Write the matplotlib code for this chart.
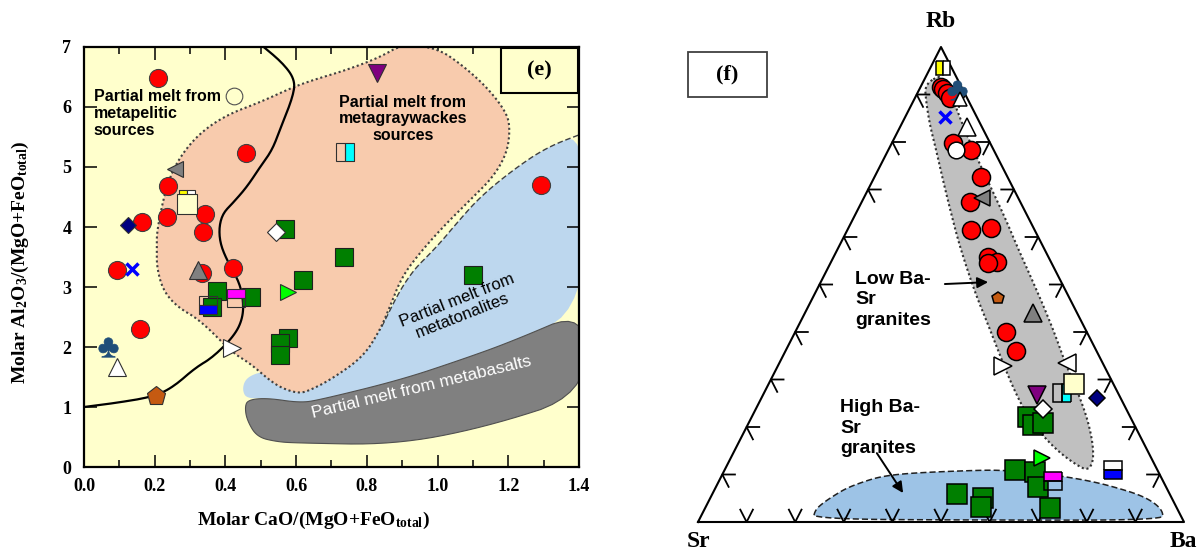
import matplotlib
matplotlib.use('Agg')
import matplotlib.pyplot as plt
import numpy as np
from matplotlib.patches import Polygon, Rectangle

plt.rcParams['font.family'] = ['Liberation Sans', 'DejaVu Sans']
plt.rcParams['mathtext.fontset'] = 'custom'
plt.rcParams['mathtext.rm'] = 'Liberation Serif:bold'
plt.rcParams['mathtext.it'] = 'Liberation Serif:bold:italic'
plt.rcParams['mathtext.bf'] = 'Liberation Serif:bold'
SERIF = ['Liberation Serif', 'DejaVu Serif']

# ---------------- panel (e): Al2O3/(MgO+FeO) vs CaO/(MgO+FeO) ----------------
red_x = [0.209, 0.458, 0.237, 0.164, 0.234, 0.342, 0.337, 0.093, 0.333, 0.421, 0.158, 1.292]
red_y = [6.48, 5.23, 4.68, 4.08, 4.17, 4.22, 3.92, 3.28, 3.23, 3.32, 2.30, 4.70]
green_x = [0.568, 0.376, 0.472, 0.362, 0.620, 0.735, 0.577, 0.554, 0.554, 1.100]
green_y = [3.97, 2.93, 2.83, 2.67, 3.12, 3.50, 2.15, 2.07, 1.87, 3.20]

# single symbols: name -> (x, y)
e_pts = {
    'navy_diamond': (0.124, 4.03), 'white_diamond': (0.543, 3.92),
    'blue_x': (0.136, 3.30), 'gray_up': (0.322, 3.28), 'gray_left': (0.257, 4.97),
    'white_circle': (0.425, 6.18), 'club': (0.068, 2.00), 'white_up': (0.093, 1.67),
    'pentagon': (0.204, 1.18), 'white_right': (0.418, 1.98), 'green_right': (0.577, 2.92),
    'purple_down': (0.829, 6.57), 'cyan_half': (0.738, 5.25), 'magenta_top': (0.430, 2.82),
    'blue_bottom': (0.351, 2.70), 'yellow_half': (0.291, 4.49), 'cream_sq': (0.291, 4.38),
}

# field outlines
peach_x = [0.902, 0.998, 1.063, 1.140, 1.196, 1.205, 1.196, 1.157, 1.092, 1.015, 0.950, 0.899,
           0.865, 0.837, 0.789, 0.696, 0.639, 0.611, 0.574, 0.534, 0.469, 0.421, 0.328, 0.263,
           0.223, 0.206, 0.206, 0.206, 0.235, 0.271, 0.328, 0.404, 0.498, 0.591, 0.648, 0.744, 0.837]
peach_y = [7.05, 6.98, 6.73, 6.33, 5.90, 5.62, 5.23, 4.83, 4.45, 4.00, 3.57, 3.17,
           2.67, 2.28, 1.83, 1.45, 1.28, 1.23, 1.28, 1.40, 1.73, 1.90, 2.45, 2.67,
           2.95, 3.33, 3.62, 3.95, 4.73, 5.17, 5.57, 5.87, 6.08, 6.33, 6.45, 6.62, 6.83]
tonal_x = [1.42, 1.309, 1.213, 1.120, 1.055, 0.998, 0.913, 0.837, 0.780, 0.696, 0.580, 0.520,
           0.480, 0.455, 0.448, 0.460, 0.518, 0.611, 0.667, 0.894, 1.063, 1.205, 1.42]
tonal_y = [5.58, 5.33, 4.95, 4.50, 4.07, 3.67, 3.17, 2.28, 1.78, 1.53, 1.65, 1.60,
           1.55, 1.45, 1.28, 1.14, 1.15, 1.07, 1.12, 1.45, 1.78, 2.08, 2.62]
basalt_x = [0.464, 0.518, 0.611, 0.667, 0.894, 1.063, 1.205, 1.42, 1.42, 1.128, 0.874, 0.602,
            0.546, 0.489, 0.461, 0.455]
basalt_y = [1.12, 1.15, 1.07, 1.12, 1.45, 1.78, 2.08, 2.62, 1.20, 0.65, 0.37, 0.40,
            0.42, 0.50, 0.78, 1.00]
curve_x = [0.0, 0.093, 0.195, 0.252, 0.314, 0.365, 0.427, 0.450, 0.450, 0.436, 0.404, 0.385,
           0.382, 0.393, 0.421, 0.461, 0.498, 0.532, 0.554, 0.591, 0.597, 0.563, 0.498]
curve_y = [1.00, 1.07, 1.17, 1.33, 1.65, 1.83, 2.20, 2.50, 2.83, 3.12, 3.45, 3.73,
           4.00, 4.23, 4.40, 4.67, 5.00, 5.28, 5.62, 6.17, 6.45, 6.73, 7.05]

# ---------------- panel (f): Rb-Sr-Ba ternary (Rb, Ba fractions) ----------------
t_red_rb = [0.916, 0.912, 0.903, 0.893, 0.798, 0.783, 0.726, 0.674, 0.615, 0.619, 0.558,
            0.547, 0.545, 0.400, 0.360]
t_red_ba = [0.042, 0.048, 0.061, 0.072, 0.126, 0.170, 0.219, 0.223, 0.254, 0.293, 0.318,
            0.342, 0.324, 0.434, 0.474]
t_green_rb = [0.221, 0.204, 0.208, 0.109, 0.105, 0.074, 0.029, 0.059, 0.051, 0.032]
t_green_ba = [0.569, 0.587, 0.606, 0.598, 0.641, 0.663, 0.710, 0.503, 0.561, 0.566]
f_pts = {
    'yellow_half': (0.956, 0.026), 'club': (0.909, 0.078), 'white_up_s': (0.891, 0.094),
    'blue_x': (0.853, 0.082), 'white_up': (0.832, 0.137), 'white_circle': (0.783, 0.139),
    'gray_left': (0.682, 0.243), 'pentagon': (0.472, 0.381), 'gray_up': (0.440, 0.469),
    'white_right': (0.328, 0.464), 'white_left': (0.335, 0.592), 'cyan_half': (0.272, 0.613),
    'cream_sq': (0.291, 0.628), 'navy_diamond': (0.261, 0.690), 'purple_down': (0.267, 0.564),
    'white_diamond': (0.238, 0.591), 'green_right': (0.135, 0.640),
    'magenta_top': (0.086, 0.687), 'blue_bottom': (0.109, 0.799),
}
# fields in triangle plot coordinates
lowbs_x = [0.494, 0.467, 0.469, 0.477, 0.490, 0.504, 0.519, 0.535, 0.551, 0.572, 0.597, 0.621,
           0.646, 0.673, 0.708, 0.745, 0.782, 0.802, 0.813, 0.813, 0.802, 0.782, 0.757, 0.735,
           0.710, 0.683, 0.658, 0.632, 0.605, 0.576, 0.549, 0.529, 0.514, 0.504]
lowbs_y = [0.939, 0.920, 0.888, 0.836, 0.783, 0.720, 0.657, 0.594, 0.541, 0.478, 0.415, 0.352,
           0.288, 0.232, 0.183, 0.145, 0.118, 0.109, 0.126, 0.162, 0.215, 0.272, 0.331, 0.394,
           0.457, 0.520, 0.577, 0.640, 0.699, 0.762, 0.825, 0.878, 0.914, 0.933]
highbs_x = [0.237, 0.241, 0.257, 0.282, 0.307, 0.344, 0.374, 0.416, 0.477, 0.580, 0.621, 0.683,
            0.759, 0.817, 0.862, 0.909, 0.940, 0.957, 0.955, 0.600]
highbs_y = [0.006, 0.025, 0.040, 0.057, 0.072, 0.086, 0.095, 0.101, 0.105, 0.109, 0.109, 0.105,
            0.095, 0.084, 0.072, 0.057, 0.040, 0.021, 0.004, 0.004]


def chaikin(x, y, closed=True, n=3):
    p = np.column_stack([x, y]).astype(float)
    for _ in range(n):
        q = np.roll(p, -1, axis=0) if closed else p[1:]
        a = p if closed else p[:-1]
        new = np.empty((2 * len(a), 2))
        new[0::2] = 0.75 * a + 0.25 * q
        new[1::2] = 0.25 * a + 0.75 * q
        if not closed:
            new = np.vstack([p[0], new, p[-1]])
        p = new
    return p


# marker styles: name -> kwargs
STY = {
    'navy_diamond': dict(marker='D', ms=8.5, mfc='#000080'),
    'white_diamond': dict(marker='D', ms=9.5, mfc='white'),
    'blue_x': dict(marker='x', ms=8, mec='#0000FF', mew=2.5),
    'gray_up': dict(marker='^', ms=13, mfc='#808080'),
    'gray_left': dict(marker='<', ms=12, mfc='#808080'),
    'white_circle': dict(marker='o', ms=12, mfc='white'),
    'club': dict(marker=r'$\clubsuit$', ms=14, mfc='#1F4E79', mec='#1F4E79', mew=0.5),
    'white_up': dict(marker='^', ms=13, mfc='white'),
    'white_up_s': dict(marker='^', ms=10, mfc='white'),
    'pentagon': dict(marker='p', ms=14, mfc='#C55A11'),
    'white_right': dict(marker='>', ms=13, mfc='white'),
    'white_left': dict(marker='<', ms=13, mfc='white'),
    'green_right': dict(marker='>', ms=12, mfc='#00FF00'),
    'purple_down': dict(marker='v', ms=13, mfc='#7F007F'),
    'cyan_half': dict(marker='s', ms=13, mfc='#00FFFF', fillstyle='right', mfcalt='none'),
    'magenta_top': dict(marker='s', ms=13, mfc='#FF00FF', fillstyle='top', mfcalt='none'),
    'blue_bottom': dict(marker='s', ms=13, mfc='#0000FF', fillstyle='bottom', mfcalt='none'),
    'yellow_half': dict(marker='s', ms=12, mfc='#FFFF00', fillstyle='left', mfcalt='white'),
    'cream_sq': dict(marker='s', ms=14, mfc='#FFFFCC'),
}


def put(ax, x, y, sty, ec, mew, z):
    kw = dict(sty)
    kw.setdefault('mec', ec)
    kw.setdefault('mew', mew)
    ax.plot(x, y, ls='none', zorder=z, clip_on=False, **kw)


fig = plt.figure(figsize=(12.02, 5.52), dpi=100)

# ================= panel (e) =================
ax = fig.add_axes([84 / 1202, 85 / 552, 495 / 1202, 420 / 552])
ax.set_facecolor('#FFFFCC')
ax.set_xlim(0, 1.4)
ax.set_ylim(0, 7)

ax.add_patch(Polygon(chaikin(tonal_x, tonal_y), closed=True, fc='#BDD7EE', ec='none', zorder=1))
tb = chaikin(tonal_x[:8], tonal_y[:8], closed=False)
ax.plot(tb[:, 0], tb[:, 1], color='#404040', lw=1.0, ls=(0, (4, 2)), zorder=1.5)
ax.add_patch(Polygon(chaikin(basalt_x, basalt_y), closed=True, fc='#808080', ec='#505050',
                     lw=0.8, zorder=1.6))
ax.add_patch(Polygon(chaikin(peach_x, peach_y), closed=True, fc='#F8CBAD', ec='#404040',
                     lw=1.5, ls=(0, (1, 1.3)), zorder=2))
cv = chaikin(curve_x, curve_y, closed=False)
ax.plot(cv[:, 0], cv[:, 1], color='black', lw=1.6, zorder=3)

ax.plot(red_x, red_y, ls='none', marker='o', ms=13, mfc='#FF0000', mec='#404040', mew=0.8, zorder=4)
ax.plot(green_x, green_y, ls='none', marker='s', ms=13.5, mfc='#007F00', mec='#202020', mew=0.8, zorder=4)
for name, (px, py) in e_pts.items():
    st = dict(STY[name])
    if name == 'white_circle':
        st.update(mfc='none', mec='#505050')
    put(ax, px, py, st, '#303030', 0.8, 5)

ax.text(0.028, 6.30, 'Partial melt from\nmetapelitic\nsources', fontsize=11.5,
        fontweight='bold', ha='left', va='top', linespacing=1.15, zorder=6)
ax.text(0.902, 5.80, 'Partial melt from\nmetagraywackes\nsources', fontsize=11.5,
        fontweight='bold', ha='center', va='center', linespacing=1.15, zorder=6)
ax.text(1.063, 2.65, 'Partial melt from\nmetatonalites', fontsize=12, ha='center',
        va='center', rotation=21.5, linespacing=1.05, zorder=6)
ax.text(0.956, 1.33, 'Partial melt from metabasalts', fontsize=12.5, color='white',
        ha='center', va='center', rotation=13.5, zorder=6)

ax.add_patch(Rectangle((0.842, 0.890), 0.156, 0.108, transform=ax.transAxes,
                       fc='#FFFFCC', ec='black', lw=1.5, zorder=7))
ax.text(0.920, 0.944, '(e)', transform=ax.transAxes, fontsize=16, fontweight='bold',
        family=SERIF, ha='center', va='center', zorder=8)

ax.set_xticks(np.arange(0, 1.41, 0.2))
ax.set_xticks(np.arange(0, 1.41, 0.1), minor=True)
ax.set_yticks(range(0, 8))
ax.set_xticklabels(['%.1f' % v for v in np.arange(0, 1.41, 0.2)])
ax.tick_params(which='both', direction='in', top=True, right=True, width=1.1)
ax.tick_params(which='major', length=9)
ax.tick_params(which='minor', length=5)
ax.tick_params(axis='x', pad=8)
ax.tick_params(axis='y', pad=9)
for lab in ax.get_xticklabels() + ax.get_yticklabels():
    lab.set_fontfamily(SERIF)
    lab.set_fontweight('bold')
    lab.set_fontsize(13)
for s in ax.spines.values():
    s.set_linewidth(1.6)

fig.text(313 / 1202, 1 - 520 / 552, r'Molar CaO/(MgO+FeO$_{\mathrm{total}}$)', family=SERIF,
         fontweight='bold', fontsize=14, ha='center', va='center')
fig.text(20 / 1202, 1 - 262 / 552, r'Molar Al$_2$O$_3$/(MgO+FeO$_{\mathrm{total}}$)',
         family=SERIF, fontweight='bold', fontsize=14, ha='center', va='center', rotation=90)

# ================= panel (f) =================
tx = fig.add_axes([698 / 1202, 30 / 552, 486 / 1202, 475 / 552])
tx.set_xlim(0, 1)
tx.set_ylim(0, 1)
tx.axis('off')


def tern(rb, ba):
    rb = np.asarray(rb, float)
    ba = np.asarray(ba, float)
    return ba + rb / 2, rb


tx.add_patch(Polygon(chaikin(highbs_x, highbs_y), closed=True, fc='#9DC3E6', ec='#202020',
                     lw=1.1, ls=(0, (4, 2)), zorder=1, clip_on=False))
tx.add_patch(Polygon(chaikin(lowbs_x, lowbs_y), closed=True, fc='#C0C0C0', ec='#303030',
                     lw=1.5, ls=(0, (1, 1.3)), zorder=1.2, clip_on=False))
tx.plot([0, 0.5, 1, 0], [0, 1, 0, 0], color='black', lw=1.5, zorder=2, clip_on=False)

h, d = 0.026, 0.013
for i in range(1, 10):
    f = i / 10
    tx.plot([f - d, f, f + d], [2 * d, 0, 2 * d], color='black', lw=1.3, zorder=2, clip_on=False)
    tx.plot([f / 2 + h, f / 2, f / 2 + d], [f, f, f - 2 * d], color='black', lw=1.3,
            zorder=2, clip_on=False)
    tx.plot([1 - f / 2 - h, 1 - f / 2, 1 - f / 2 - d], [f, f, f - 2 * d], color='black',
            lw=1.3, zorder=2, clip_on=False)

x, y = tern(t_red_rb, t_red_ba)
tx.plot(x, y, ls='none', marker='o', ms=13, mfc='#FF0000', mec='black', mew=1.1, zorder=4,
        clip_on=False)
x, y = tern(t_green_rb, t_green_ba)
tx.plot(x, y, ls='none', marker='s', ms=14, mfc='#007F00', mec='black', mew=1.1, zorder=4,
        clip_on=False)
for name, (rb, ba) in f_pts.items():
    st = dict(STY.get(name))
    if name == 'pentagon':
        st['ms'] = 9
    if name == 'yellow_half':
        st['ms'] = 10
    x, y = tern(rb, ba)
    put(tx, x, y, st, 'black', 1.1, 5)

tx.text(0.5, 1.053, 'Rb', family=SERIF, fontweight='bold', fontsize=17, ha='center', va='center')
tx.text(0.002, -0.042, 'Sr', family=SERIF, fontweight='bold', fontsize=17, ha='center', va='center')
tx.text(0.998, -0.042, 'Ba', family=SERIF, fontweight='bold', fontsize=17, ha='center', va='center')

tx.text(0.323, 0.528, 'Low Ba-\nSr\ngranites', fontsize=14, fontweight='bold', ha='left',
        va='top', linespacing=1.25, zorder=6)
tx.text(0.292, 0.258, 'High Ba-\nSr\ngranites', fontsize=14, fontweight='bold', ha='left',
        va='top', linespacing=1.25, zorder=6)
arr = dict(arrowstyle='-|>', color='black', lw=1.4, mutation_scale=16, shrinkA=0, shrinkB=0)
tx.annotate('', xy=(0.597, 0.505), xytext=(0.508, 0.501), arrowprops=arr, zorder=6)
tx.annotate('', xy=(0.422, 0.061), xytext=(0.368, 0.145), arrowprops=arr, zorder=6)

fig.add_artist(Rectangle((688 / 1202, 1 - 97 / 552), 79 / 1202, 45 / 552,
                         transform=fig.transFigure, fc='white', ec='#404040', lw=1.3))
fig.text(727.5 / 1202, 1 - 74.5 / 552, '(f)', family=SERIF, fontweight='bold', fontsize=16,
         ha='center', va='center')

fig.savefig('out.png', dpi=100)
